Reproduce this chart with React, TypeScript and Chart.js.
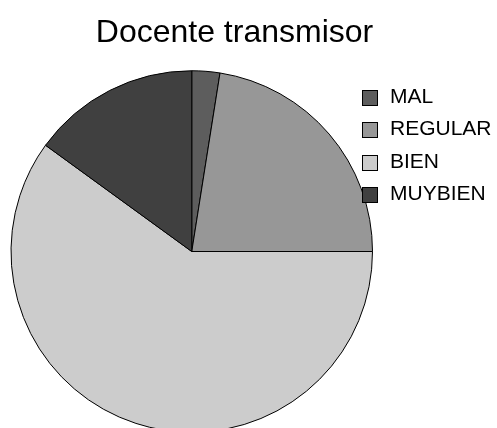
import { useEffect, useRef } from 'react';
import { Chart, registerables } from 'chart.js';

Chart.register(...registerables);

const TITLE = 'Docente transmisor';
const categories = ['MAL', 'REGULAR', 'BIEN', 'MUYBIEN'];
const values = [1, 9, 24, 6];
const colors = ['#5d5d5d', '#979797', '#cccccc', '#404040'];

const FONT = '"Liberation Sans", Arial, Helvetica, sans-serif';

export default function App() {
  const ref = useRef<HTMLCanvasElement>(null);

  useEffect(() => {
    document.body.style.margin = '0';
    const canvas = ref.current;
    if (!canvas) return;

    const titlePlugin = {
      id: 'customTitle',
      afterDraw(chart: any) {
        const ctx = chart.ctx;
        ctx.save();
        ctx.font = `32px ${FONT}`;
        ctx.fillStyle = '#000';
        ctx.textAlign = 'center';
        ctx.textBaseline = 'alphabetic';
        ctx.fillText(TITLE, 234.5, 42);
        ctx.restore();
      },
    };

    const legendPlugin = {
      id: 'customLegend',
      afterDraw(chart: any) {
        const ctx = chart.ctx;
        const labels: string[] = chart.data.labels;
        const bg: string[] = chart.data.datasets[0].backgroundColor;
        const box = 15;
        ctx.save();
        ctx.font = `21px ${FONT}`;
        ctx.textAlign = 'left';
        ctx.textBaseline = 'alphabetic';
        labels.forEach((label, i) => {
          const baseline = Math.round(103 + i * 32.3);
          const by = baseline - 13 + 0.5;
          ctx.fillStyle = bg[i];
          ctx.fillRect(362.5, by, box, box);
          ctx.strokeStyle = '#000';
          ctx.lineWidth = 1;
          ctx.strokeRect(362.5, by, box, box);
          ctx.fillStyle = '#000';
          ctx.fillText(label, 390, baseline);
        });
        ctx.restore();
      },
    };

    const chart = new Chart(canvas, {
      type: 'pie',
      data: {
        labels: categories,
        datasets: [
          {
            data: values,
            backgroundColor: colors,
            borderColor: '#000000',
            borderWidth: 1,
            clip: false,
          } as any,
        ],
      },
      options: {
        responsive: false,
        animation: false,
        layout: { padding: { left: 10.5, top: 69.5, right: 124, bottom: 6.5 } },
        plugins: {
          legend: { display: false },
          title: { display: false },
          tooltip: { enabled: false },
        },
      },
      plugins: [titlePlugin, legendPlugin],
    });

    return () => chart.destroy();
  }, []);

  return (
    <div style={{ width: 497, height: 428, overflow: 'hidden', background: '#fff' }}>
      <canvas ref={ref} width={497} height={440} style={{ display: 'block', width: 497, height: 440 }} />
    </div>
  );
}
